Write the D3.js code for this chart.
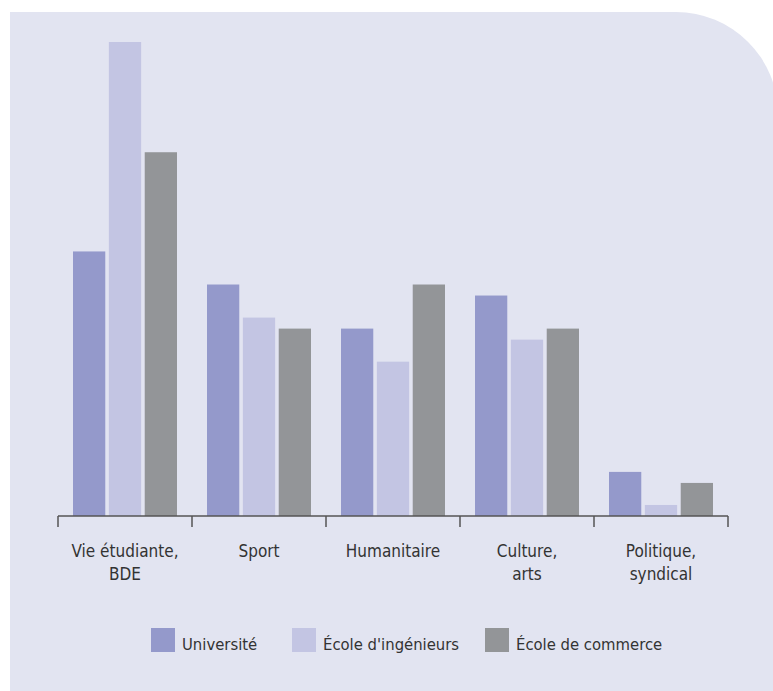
<!DOCTYPE html>
<html>
<head>
<meta charset="utf-8">
<script src="https://cdn.jsdelivr.net/npm/d3@7"></script>
<style>
  body { margin: 0; background: #fff; }
  svg text { font-family: "DejaVu Sans Condensed", "DejaVu Sans", sans-serif; fill: #333; }
</style>
</head>
<body>
<div id="chart"></div>
<script>
var categories = [["Vie étudiante,", "BDE"], ["Sport"], ["Humanitaire"], ["Culture,", "arts"], ["Politique,", "syndical"]];
var series = ["Université", "École d'ingénieurs", "École de commerce"];
var universite = [24, 21, 17, 20, 4];
var ingenieurs = [43, 18, 14, 16, 1];
var commerce = [33, 17, 21, 17, 3];
var colors = ["#9499cb", "#c3c5e3", "#939598"];

var width = 773, height = 691;
var values = [universite, ingenieurs, commerce];

var svg = d3.select("#chart").append("svg")
  .attr("width", width)
  .attr("height", height);

// panel, round top-right corner
var r = 102, px = 10, py = 12, pr = 778;
svg.append("path")
  .attr("d", "M" + px + "," + py + " H" + (pr - r) +
    " A" + r + "," + r + " 0 0 1 " + pr + "," + (py + r) +
    " V" + height + " H" + px + " Z")
  .attr("fill", "#e2e4f1");

var x0 = d3.scaleBand()
  .domain(d3.range(categories.length))
  .range([58, 728]);

var x1 = d3.scaleBand()
  .domain(d3.range(series.length))
  .range([15, x0.bandwidth() - 15])
  .paddingInner(0.1);

var y = d3.scaleLinear()
  .domain([0, 43])
  .range([516, 42]);

var groups = svg.selectAll(".group")
  .data(categories)
  .enter().append("g")
  .attr("class", "group")
  .attr("transform", function (d, i) { return "translate(" + x0(i) + ",0)"; });

groups.selectAll("rect")
  .data(function (d, i) { return values.map(function (v, s) { return { s: s, v: v[i] }; }); })
  .enter().append("rect")
  .attr("x", function (d) { return x1(d.s); })
  .attr("width", x1.bandwidth())
  .attr("y", function (d) { return y(d.v); })
  .attr("height", function (d) { return y(0) - y(d.v); })
  .attr("fill", function (d) { return colors[d.s]; });

// axis
var axis = svg.append("g");
axis.append("line")
  .attr("x1", 58).attr("x2", 728)
  .attr("y1", y(0)).attr("y2", y(0))
  .attr("stroke", "#555").attr("stroke-width", 1.5);

var ticks = d3.range(categories.length + 1).map(function (i) {
  return i < categories.length ? x0(i) : x0(i - 1) + x0.bandwidth();
});
axis.selectAll(".tick")
  .data(ticks)
  .enter().append("line")
  .attr("x1", function (d) { return d; })
  .attr("x2", function (d) { return d; })
  .attr("y1", y(0))
  .attr("y2", y(0) + 11)
  .attr("stroke", "#555").attr("stroke-width", 1.5);

var labels = svg.selectAll(".cat")
  .data(categories)
  .enter().append("text")
  .attr("class", "cat")
  .attr("text-anchor", "middle")
  .attr("font-size", 17);

labels.selectAll("tspan")
  .data(function (d, i) { return d.map(function (t) { return { t: t, i: i }; }); })
  .enter().append("tspan")
  .attr("x", function (d) { return x0(d.i) + x0.bandwidth() / 2; })
  .attr("y", function (d, j) { return 557 + j * 23; })
  .text(function (d) { return d.t; });

// legend
var legendX = [151, 292, 485];
var legend = svg.selectAll(".legend")
  .data(series)
  .enter().append("g")
  .attr("class", "legend")
  .attr("transform", function (d, i) { return "translate(" + legendX[i] + ",628)"; });

legend.append("rect")
  .attr("width", 24).attr("height", 24)
  .attr("fill", function (d, i) { return colors[i]; });

legend.append("text")
  .attr("x", 31)
  .attr("y", 22)
  .attr("font-size", 16.5)
  .text(function (d) { return d; });
</script>
</body>
</html>
